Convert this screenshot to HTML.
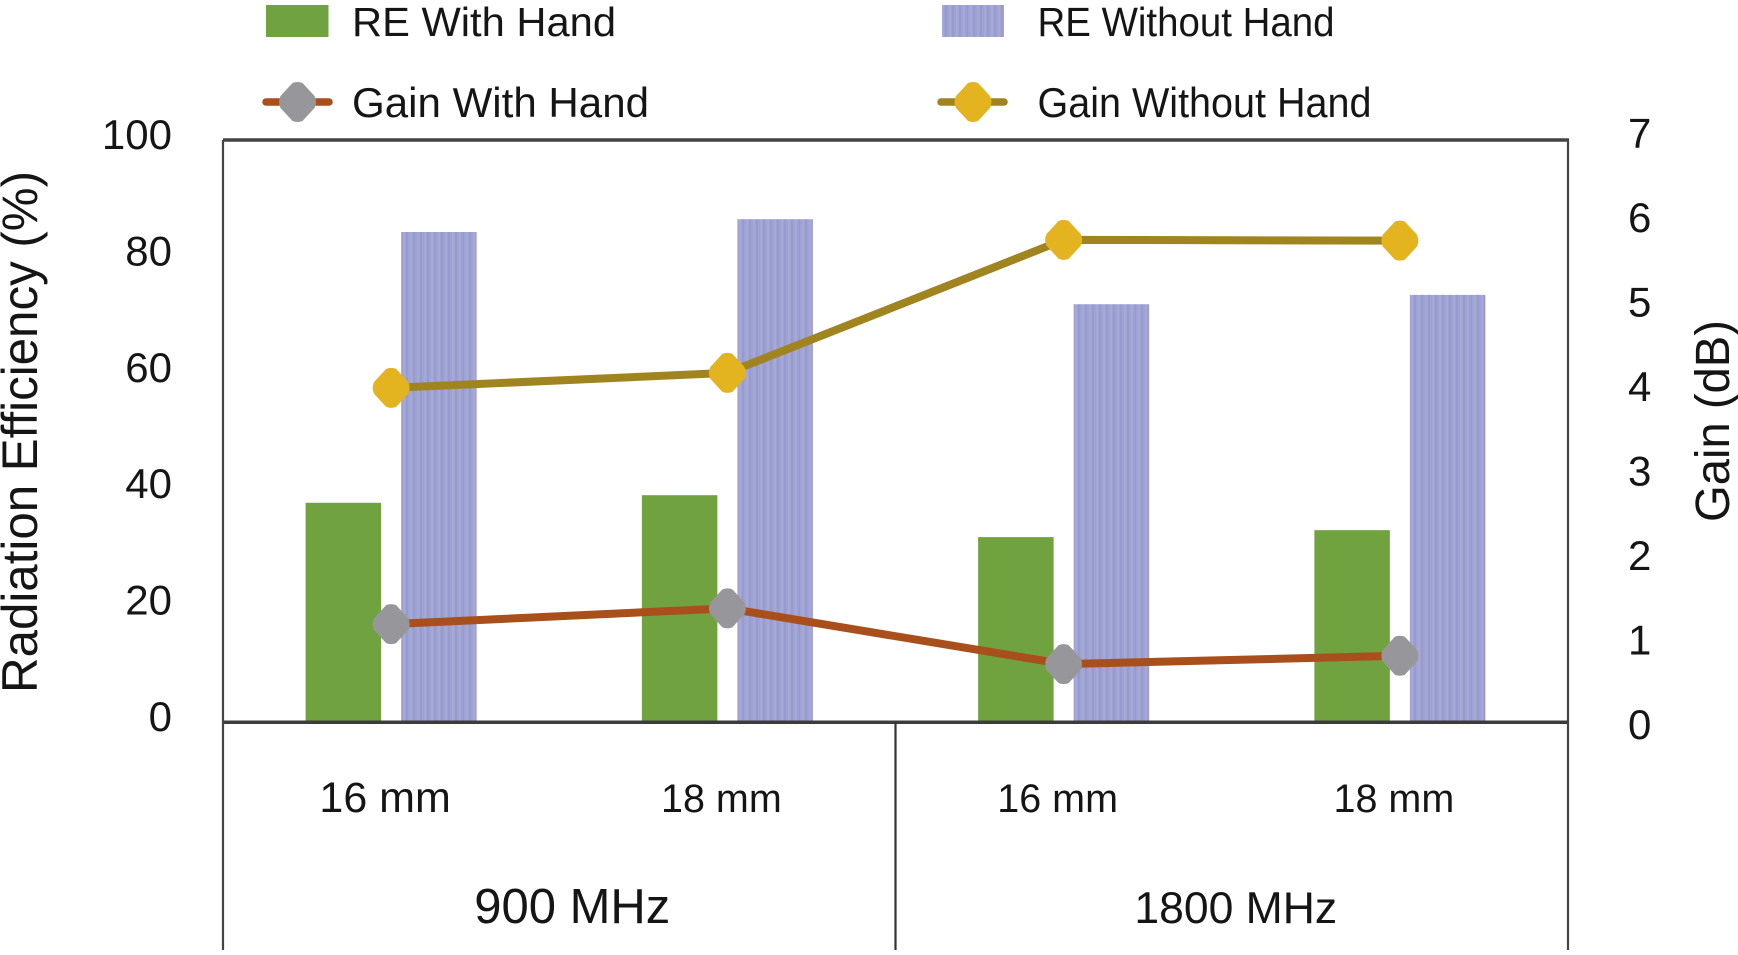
<!DOCTYPE html>
<html lang="en">
<head>
<meta charset="utf-8">
<title>Radiation Efficiency and Gain</title>
<style>
html,body{margin:0;padding:0;background:#fff;width:1738px;height:955px;overflow:hidden}
svg{display:block}
text{font-family:"Liberation Sans",sans-serif;fill:#151515}
</style>
</head>
<body>
<svg id="chart" xmlns="http://www.w3.org/2000/svg" width="1738" height="955" viewBox="0 0 1738 955">
  <defs>
    <pattern id="stripes" patternUnits="userSpaceOnUse" width="7" height="10">
      <rect width="7" height="10" fill="#9fa3d2"/>
      <rect x="0" width="2" height="10" fill="#979bcd"/>
      <rect x="4" width="2" height="10" fill="#a6a9d7"/>
    </pattern>
  </defs>
  <rect width="1738" height="955" fill="#fff"/>

  <g id="bars"></g>
  <g id="frame"></g>
  <g id="lines"></g>
  <g id="ticks"></g>
  <g id="cats"></g>

  <g>
    <g>
      <rect x="266" y="5" width="62.500" height="32" fill="#70a340"/>
      <text x="352" y="36" font-size="41" textLength="264" lengthAdjust="spacingAndGlyphs">RE With Hand</text>
    </g>
    <g>
      <rect x="942" y="5" width="62" height="32" fill="url(#stripes)"/>
      <text x="1037.500" y="36" font-size="41" textLength="297" lengthAdjust="spacingAndGlyphs">RE Without Hand</text>
    </g>
    <g>
      <line x1="266" y1="102" x2="329" y2="102" stroke="#a84f1c" stroke-width="7.500" stroke-linecap="round"/>
      <path transform="translate(297.500,102)" d="M-5,-19 Q0,-21 5,-19 L17,-6 Q20,0 17,6 L5,19 Q0,21 -5,19 L-17,6 Q-20,0 -17,-6Z" fill="#97979b"/>
      <text x="352" y="117" font-size="42" textLength="297" lengthAdjust="spacingAndGlyphs">Gain With Hand</text>
    </g>
    <g>
      <line x1="941" y1="102" x2="1004" y2="102" stroke="#a08420" stroke-width="7.500" stroke-linecap="round"/>
      <path transform="translate(973,102)" d="M-5,-19 Q0,-21 5,-19 L17,-6 Q20,0 17,6 L5,19 Q0,21 -5,19 L-17,6 Q-20,0 -17,-6Z" fill="#e4b420"/>
      <text x="1037.500" y="117" font-size="42" textLength="334" lengthAdjust="spacingAndGlyphs">Gain Without Hand</text>
    </g>
  </g>

  <text transform="translate(37,693) rotate(-90)" font-size="50" textLength="522" lengthAdjust="spacingAndGlyphs">Radiation Efficiency (%)</text>
  <text transform="translate(1729,522) rotate(-90)" font-size="48" textLength="202" lengthAdjust="spacingAndGlyphs">Gain (dB)</text>
</svg>
<script>
var categories = ["16 mm", "18 mm", "16 mm", "18 mm"];
var groups = ["900 MHz", "1800 MHz"];
var reWithHand = [37.7, 39.0, 31.8, 33.0];
var reWithoutHand = [84.2, 86.4, 71.8, 73.4];
var gainWithHand = [1.18, 1.37, 0.70, 0.80];
var gainWithoutHand = [4.02, 4.20, 5.80, 5.79];
var leftTicks = [0, 20, 40, 60, 80, 100];
var rightTicks = [0, 1, 2, 3, 4, 5, 6, 7];

var SVGNS = "http://www.w3.org/2000/svg";
var plotLeft = 223, plotRight = 1568, plotTop = 140, plotBase = 722.3, plotBottom = 950;
var band = (plotRight - plotLeft) / categories.length;
var barWidth = 75.5, barGap = 10;
var MARKER = "M-5,-19 Q0,-21 5,-19 L17,-6 Q20,0 17,6 L5,19 Q0,21 -5,19 L-17,6 Q-20,0 -17,-6Z";

function xCenter(i) { return plotLeft + band * (i + 0.5); }
function yRE(v) { return plotBase - (v / 100) * (plotBase - plotTop); }
function yGain(v) { return plotBase - (v / 7) * (plotBase - plotTop); }
function leftTickBaseline(v) { return 731 - v * 5.82; }
function rightTickBaseline(v) { return 739 - v * 84.5; }

function make(tag, attrs, parentId) {
  var el = document.createElementNS(SVGNS, tag);
  for (var k in attrs) { el.setAttribute(k, attrs[k]); }
  document.getElementById(parentId).appendChild(el);
  return el;
}

// Bars
reWithHand.forEach(function (v, i) {
  var el = make("rect", { x: xCenter(i) - barGap - barWidth, y: yRE(v), width: barWidth, height: plotBase - yRE(v), fill: "#70a340" }, "bars");
  
  
});
reWithoutHand.forEach(function (v, i) {
  var el = make("rect", { x: xCenter(i) + barGap, y: yRE(v), width: barWidth, height: plotBase - yRE(v), fill: "url(#stripes)" }, "bars");
  
  
});

// Frame
var frameTop = make("line", { x1: plotLeft, y1: plotTop, x2: plotRight + 1, y2: plotTop, stroke: "#444", "stroke-width": 3.5 }, "frame");


var frameBase = make("line", { x1: plotLeft, y1: plotBase, x2: plotRight + 1, y2: plotBase, stroke: "#3c3c3c", "stroke-width": 3.5 }, "frame");


var frameLeft = make("line", { x1: plotLeft, y1: plotTop, x2: plotLeft, y2: plotBottom, stroke: "#444", "stroke-width": 2.2 }, "frame");


var frameRight = make("line", { x1: plotRight, y1: plotTop, x2: plotRight, y2: plotBottom, stroke: "#444", "stroke-width": 2.2 }, "frame");


var divider = make("line", { x1: (plotLeft + plotRight) / 2, y1: plotBase, x2: (plotLeft + plotRight) / 2, y2: plotBottom, stroke: "#333", "stroke-width": 2.2 }, "frame");



// Lines
function pointsFor(series) {
  return series.map(function (v, i) { return xCenter(i) + "," + yGain(v); }).join(" ");
}
var lineWith = make("polyline", { points: pointsFor(gainWithHand), fill: "none", stroke: "#a84f1c", "stroke-width": 8, "stroke-linejoin": "round" }, "lines");


var lineWithout = make("polyline", { points: pointsFor(gainWithoutHand), fill: "none", stroke: "#a08420", "stroke-width": 8, "stroke-linejoin": "round" }, "lines");



// Markers
gainWithHand.forEach(function (v, i) {
  var el = make("path", { d: MARKER, transform: "translate(" + xCenter(i) + "," + yGain(v) + ")", fill: "#97979b" }, "lines");
  
  
});
gainWithoutHand.forEach(function (v, i) {
  var el = make("path", { d: MARKER, transform: "translate(" + xCenter(i) + "," + yGain(v) + ")", fill: "#e4b420" }, "lines");
  
  
});

// Tick labels
leftTicks.forEach(function (v) {
  var el = make("text", { x: 172, y: leftTickBaseline(v), "font-size": 42, "text-anchor": "end" }, "ticks");
  el.textContent = v;
  
  
});
rightTicks.forEach(function (v) {
  var el = make("text", { x: 1628, y: rightTickBaseline(v), "font-size": 42 }, "ticks");
  el.textContent = v;
  
  
});

// Category and group labels
categories.forEach(function (c, i) {
  var el = make("text", { x: xCenter(i) - 6, y: 812, "font-size": i === 0 ? 43 : 39.5, "text-anchor": "middle" }, "cats");
  el.textContent = c;
  
  
});
groups.forEach(function (g, i) {
  var groupCenter = plotLeft + band * (2 * i + 1);
  var el = make("text", { x: groupCenter + (i === 0 ? 13 : 4), y: 923, "font-size": i === 0 ? 49 : 44.5, "text-anchor": "middle" }, "cats");
  el.textContent = g;
  
  
});
</script>
</body>
</html>
